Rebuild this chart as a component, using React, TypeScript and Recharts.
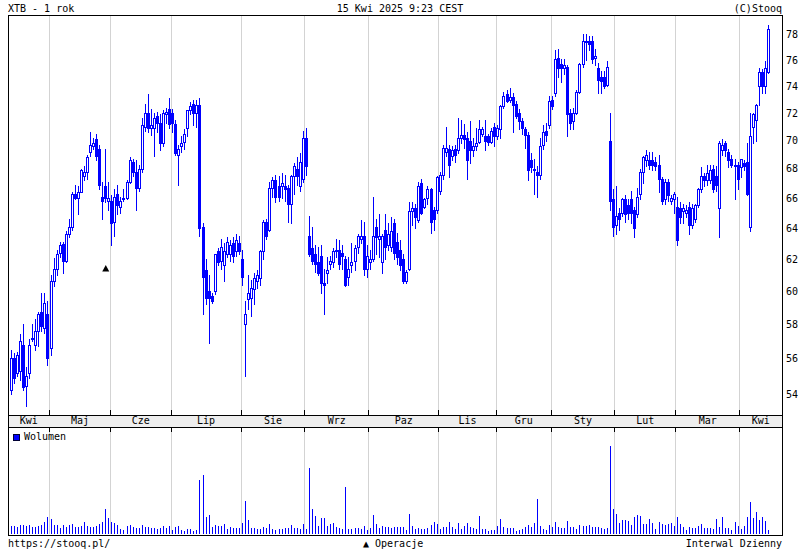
import React from 'react';
import {
  ComposedChart,
  Bar,
  XAxis,
  YAxis,
  CartesianGrid,
  ReferenceDot,
  Legend,
} from 'recharts';

const BLUE = '#0000ff';
const GRID = '#d3d3d3';
const FONT = '"DejaVu Sans Mono", "Liberation Mono", monospace';

// months on the axis and how many sessions each one holds
const monthLabels = ['Kwi', 'Maj', 'Cze', 'Lip', 'Sie', 'Wrz', 'Paz', 'Lis', 'Gru', 'Sty', 'Lut', 'Mar', 'Kwi'];
const monthDays = [13, 20, 20, 23, 21, 21, 23, 19, 18, 21, 20, 21, 10];

const priceTicks = [54, 56, 58, 60, 62, 64, 66, 68, 70, 72, 74, 76, 78];

// XTB daily OHLC
const opens = [
  54.2, 56.0, 55.2, 55.3, 56.8, 54.45, 55.2, 57.1, 56.8, 57.6, 58.7, 57.8, 58.6,
  56.6, 60.6, 61.4, 62.4, 62.95, 61.9, 63.6, 64.1, 66.3, 66.0, 66.4, 67.5, 67.8, 69.2, 69.6, 70.1, 69.4, 66.1, 66.8, 65.8,
  65.8, 64.4, 66.3, 65.4, 65.9, 66.0, 67.1, 68.5, 67.8, 66.7, 68.0, 71.0, 72.0, 70.9, 70.9, 71.8, 71.3, 69.8, 71.9, 72.3,
  72.0, 71.2, 69.0, 69.6, 69.9, 70.9, 72.2, 72.7, 72.0, 72.6, 64.1, 61.3, 60.0, 59.7, 60.0, 62.5, 61.9, 61.6, 62.3, 62.3, 63.0, 62.5, 63.0,
  62.0, 58.0, 59.5, 59.6, 60.1, 60.6, 60.8, 62.5, 64.4, 63.9, 66.7, 67.2, 66.8, 66.8, 66.8, 66.7, 65.6, 67.5, 68.0, 66.8, 67.3,
  70.2, 63.5, 62.7, 62.3, 61.8, 62.2, 60.5, 61.1, 61.7, 61.8, 62.5, 62.6, 62.4, 62.0, 60.9, 61.6, 61.9, 62.8, 63.3, 63.5, 61.4,
  61.8, 62.0, 64.1, 63.3, 61.8, 63.9, 62.9, 62.8, 64.3, 63.1, 62.6, 62.0, 60.6, 61.4, 65.1, 65.3, 64.5, 67.0, 65.4, 66.0, 66.6, 65.2, 65.2,
  66.5, 67.6, 69.2, 69.4, 68.9, 69.4, 69.3, 70.2, 70.4, 70.2, 70.0, 69.3, 69.6, 69.9, 70.5, 70.3, 70.3, 69.9, 71.0,
  70.3, 70.8, 72.5, 73.4, 73.0, 73.2, 72.7, 72.0, 71.4, 70.8, 70.4, 68.6, 67.9, 67.8, 67.6, 69.7, 70.7, 71.1,
  73.0, 73.5, 76.2, 75.7, 75.4, 75.5, 72.0, 71.4, 72.0, 73.6, 75.7, 77.4, 77.5, 77.5, 76.2, 75.4, 74.7, 74.7, 74.1, 70.0, 65.9,
  64.2, 65.0, 65.0, 65.9, 65.5, 65.9, 65.2, 64.9, 66.3, 67.8, 68.6, 68.6, 68.6, 68.5, 68.3, 67.3, 65.9, 67.1, 65.8, 65.9,
  65.4, 65.3, 65.1, 65.0, 65.4, 64.2, 64.6, 65.5, 66.6, 67.5, 67.2, 67.2, 68.0, 67.5, 65.3, 69.3, 69.8, 69.2, 68.7, 68.3, 68.3,
  68.1, 68.4, 68.5, 64.1, 71.0, 71.5, 74.0, 75.1, 74.0, 75.1,
];

const highs = [
  56.5, 56.3, 56.4, 57.4, 58.0, 55.5, 57.1, 58.0, 58.3, 58.7, 59.9, 59.9, 59.4,
  61.0, 62.05, 62.6, 63.1, 63.1, 63.8, 64.6, 66.4, 66.9, 66.8, 68.0, 68.2, 69.0, 70.6, 70.2, 70.5, 69.7, 67.1, 69.4, 67.1,
  66.2, 66.6, 66.9, 66.1, 66.6, 67.2, 68.8, 68.7, 68.6, 68.3, 71.6, 72.7, 73.4, 72.3, 72.0, 72.1, 71.9, 72.2, 72.4, 73.1,
  72.3, 71.5, 69.7, 70.3, 70.8, 72.2, 72.8, 73.0, 73.0, 73.1, 64.3, 62.0, 61.0, 59.9, 62.3, 62.7, 63.3, 63.0, 63.4, 63.2, 63.4, 63.6, 63.5,
  62.6, 59.4, 61.0, 60.7, 61.1, 61.3, 62.6, 64.5, 64.6, 67.1, 67.4, 67.6, 67.5, 67.7, 67.6, 66.9, 67.6, 68.4, 68.8, 69.1, 70.7,
  70.9, 64.8, 64.1, 62.9, 62.8, 62.9, 61.4, 62.1, 62.2, 62.7, 63.3, 63.2, 62.9, 62.2, 62.1, 63.0, 62.9, 63.6, 64.5, 64.4, 62.9,
  62.6, 66.1, 64.6, 64.9, 63.6, 64.9, 64.3, 64.7, 64.6, 63.7, 63.2, 62.3, 61.3, 65.7, 65.7, 65.6, 67.1, 67.3, 66.0, 66.8, 66.7, 65.4, 67.5,
  67.8, 69.7, 71.0, 69.7, 69.6, 69.7, 71.6, 71.5, 71.2, 70.6, 71.4, 70.2, 70.9, 71.5, 71.0, 71.5, 70.5, 70.9, 71.3,
  71.1, 72.6, 73.6, 73.7, 73.9, 73.5, 72.9, 72.3, 71.6, 71.0, 70.6, 69.1, 68.7, 68.2, 70.2, 71.1, 71.3, 73.3,
  73.3, 76.8, 76.9, 76.1, 76.1, 75.6, 72.3, 72.4, 73.7, 75.8, 78.1, 78.1, 77.9, 77.9, 76.9, 75.8, 75.2, 75.2, 75.9, 72.0, 66.6,
  66.8, 65.3, 66.0, 66.2, 65.9, 66.5, 65.4, 66.7, 68.0, 68.9, 69.3, 69.2, 69.2, 68.8, 69.0, 67.4, 67.3, 67.3, 66.2, 66.4,
  66.1, 65.7, 65.6, 65.5, 65.7, 65.6, 65.6, 66.7, 68.1, 67.7, 68.3, 68.3, 68.3, 68.2, 70.0, 70.1, 70.0, 69.4, 69.0, 68.7, 68.5,
  68.7, 68.6, 69.8, 72.0, 72.0, 72.7, 75.4, 75.3, 75.9, 78.8,
];

const lows = [
  54.0, 54.6, 55.0, 54.8, 54.2, 53.35, 54.9, 57.0, 56.5, 56.7, 57.6, 57.5, 55.6,
  56.2, 60.3, 61.0, 62.1, 61.1, 61.8, 63.4, 63.9, 65.9, 64.9, 66.4, 67.2, 67.3, 68.9, 69.4, 68.6, 66.6, 64.6, 65.7, 65.2,
  62.9, 63.5, 64.9, 65.0, 65.8, 65.9, 67.0, 67.5, 65.2, 66.5, 67.8, 70.7, 70.6, 70.4, 68.9, 70.6, 69.3, 69.6, 71.3, 70.9,
  70.6, 69.0, 66.9, 69.2, 69.4, 70.3, 71.9, 71.1, 71.0, 63.5, 58.6, 59.2, 56.9, 59.3, 59.8, 61.6, 61.4, 60.6, 62.1, 61.9, 61.8, 62.2, 62.3,
  60.4, 55.0, 58.9, 58.5, 59.2, 60.2, 60.4, 62.0, 63.3, 63.8, 66.1, 65.7, 65.8, 66.0, 65.8, 64.4, 64.3, 66.3, 66.9, 66.5, 67.1,
  67.6, 62.2, 61.7, 61.2, 61.0, 59.9, 58.6, 60.5, 61.4, 61.5, 62.1, 61.4, 61.4, 60.3, 60.4, 61.2, 61.3, 62.4, 63.0, 61.0, 60.9,
  61.4, 61.9, 62.3, 62.1, 61.1, 62.0, 62.6, 62.5, 62.0, 61.7, 61.3, 60.5, 60.5, 61.3, 64.2, 64.0, 64.4, 64.9, 65.3, 65.6, 63.7, 63.9, 65.0,
  66.3, 67.3, 68.9, 67.4, 68.6, 68.5, 69.1, 69.8, 69.5, 67.3, 68.4, 68.9, 69.3, 69.8, 70.3, 69.3, 69.7, 69.8, 69.6,
  70.1, 70.2, 72.4, 72.8, 72.8, 70.6, 71.6, 70.8, 70.5, 69.5, 67.2, 67.8, 66.3, 66.1, 67.3, 69.4, 70.0, 70.9,
  72.3, 73.3, 74.7, 74.3, 74.9, 70.3, 70.8, 70.8, 71.9, 73.5, 75.5, 76.0, 76.8, 75.8, 75.6, 73.5, 73.5, 73.9, 74.0, 65.2, 63.5,
  63.6, 63.9, 64.8, 64.4, 64.6, 64.3, 63.4, 64.7, 65.9, 67.0, 68.2, 68.0, 67.9, 67.9, 66.4, 65.6, 65.6, 65.8, 65.6, 65.0,
  62.9, 64.3, 64.3, 64.7, 63.6, 64.0, 64.4, 65.4, 66.4, 66.8, 66.9, 67.0, 66.4, 66.5, 63.4, 69.0, 68.9, 68.1, 68.1, 65.9, 66.6,
  67.4, 67.9, 66.2, 63.8, 69.8, 70.0, 72.6, 73.5, 73.5, 75.0,
];

const closes = [
  56.0, 54.9, 56.2, 57.0, 54.4, 55.0, 56.8, 57.2, 57.6, 58.6, 57.9, 59.3, 56.0,
  60.6, 61.4, 62.3, 62.9, 61.9, 63.6, 64.1, 66.3, 66.0, 66.4, 67.9, 67.8, 68.8, 69.7, 69.8, 68.9, 66.85, 65.8, 66.0, 66.0,
  64.3, 66.1, 65.5, 65.8, 66.0, 67.1, 68.6, 67.8, 66.7, 68.0, 71.1, 72.0, 70.9, 71.1, 71.6, 71.3, 69.8, 72.0, 72.1, 71.2,
  71.3, 69.1, 69.4, 69.8, 70.5, 72.2, 72.5, 72.0, 72.6, 64.0, 60.9, 59.6, 59.6, 59.4, 62.3, 61.8, 62.8, 62.5, 63.1, 62.9, 62.2, 63.2, 62.5,
  60.9, 58.6, 59.9, 60.2, 60.8, 61.0, 62.5, 64.4, 63.5, 66.7, 67.2, 66.1, 66.1, 67.0, 66.6, 65.6, 67.5, 68.2, 67.5, 68.5, 70.2,
  68.2, 62.3, 61.9, 61.7, 61.1, 60.5, 60.4, 61.3, 61.9, 62.5, 62.6, 61.7, 62.2, 60.4, 61.4, 61.8, 62.7, 63.5, 63.5, 61.4, 62.2,
  62.0, 63.5, 63.4, 63.5, 63.5, 62.8, 63.6, 63.8, 62.4, 62.1, 61.6, 60.6, 61.2, 65.1, 65.3, 64.7, 66.8, 65.0, 65.9, 66.6, 64.4, 64.6, 67.4,
  67.6, 69.5, 69.5, 68.3, 69.3, 69.0, 70.2, 70.4, 70.1, 68.6, 69.3, 69.6, 69.8, 70.8, 70.8, 70.0, 69.9, 70.7, 70.3,
  70.9, 72.5, 73.3, 72.9, 73.2, 72.6, 71.8, 71.4, 70.9, 70.4, 67.9, 68.1, 68.0, 67.6, 69.6, 70.6, 70.4, 72.9,
  72.5, 76.1, 75.4, 75.4, 75.6, 71.9, 71.3, 72.0, 73.6, 75.7, 77.5, 77.5, 77.3, 76.1, 76.3, 74.5, 74.4, 74.0, 75.5, 65.8, 64.1,
  64.8, 64.6, 65.9, 64.9, 65.0, 65.0, 64.0, 66.1, 67.8, 68.8, 69.0, 68.3, 68.3, 68.2, 67.3, 65.8, 67.1, 66.2, 66.0, 66.3,
  63.2, 64.7, 65.3, 65.2, 64.2, 65.3, 65.5, 66.6, 67.5, 67.2, 67.7, 67.9, 66.6, 66.9, 69.8, 69.7, 69.3, 68.6, 68.3, 68.2, 67.3,
  68.7, 68.2, 66.3, 70.3, 71.9, 72.6, 75.1, 74.0, 75.4, 78.5,
];

// volume, in tens of thousands of shares
const volumes = [
  8, 8, 7, 9, 9, 8, 9, 7, 7, 8, 9, 12, 17, 15, 9, 9, 6, 9, 7, 9,
  10, 7, 7, 8, 12, 8, 7, 7, 8, 10, 12, 25, 16, 12, 11, 9, 5, 4, 8, 9,
  7, 6, 6, 9, 7, 7, 6, 6, 5, 6, 8, 6, 8, 4, 7, 8, 4, 3, 5, 5,
  3, 4, 54, 59, 17, 19, 7, 9, 8, 8, 10, 5, 7, 6, 6, 6, 11, 33, 14, 6,
  6, 5, 5, 7, 6, 10, 5, 4, 5, 5, 6, 6, 9, 6, 6, 5, 10, 5, 66, 25,
  18, 8, 16, 16, 8, 10, 11, 7, 6, 5, 47, 5, 5, 6, 6, 5, 8, 4, 6, 19,
  10, 6, 8, 7, 7, 6, 7, 7,
  7, 7, 4, 20, 8, 5, 6, 5, 5, 6, 9, 12, 10, 5, 7, 7, 12, 7, 5, 11,
  5, 8, 11, 7, 6, 5, 18, 5, 5, 3, 4, 4, 8, 15, 7, 6, 6, 6, 3, 4,
  5, 7, 9, 7, 11, 35, 8, 5, 4, 9, 7, 12, 7, 6, 6, 13, 7, 7, 5, 9,
  8, 8, 9, 7, 7, 7, 6, 5, 6, 88, 25, 20, 11, 14, 14, 13, 9, 17, 19, 18,
  10, 10, 15, 11, 5, 12, 10, 9, 10, 11, 8, 17, 10, 7, 4, 7, 6, 6, 8, 10,
  6, 6, 6, 5, 15, 7, 17, 6, 6, 4, 12, 8, 5, 8, 17, 32, 16, 22, 14, 17,
  13, 4,
];

// "Operacje" marker (session index, price level)
const operations = [{ day: 31, price: 61.4 }];

const PRICE_DOMAIN: [number, number] = [52.85, 79.6];
const PLOT_LEFT = 8;
const PLOT_RIGHT = 782;
const PAD_L = 2;
const PAD_R = 12;

const dayKeys: string[] = [];
const monthStartKeys: string[] = [];
monthLabels.forEach((label, m) => {
  for (let d = 0; d < monthDays[m]; d++) {
    const key = `${m}-${label}-${d + 1}`;
    if (d === 0) monthStartKeys.push(key);
    dayKeys.push(key);
  }
});

const rows = dayKeys.map((key, i) => ({
  key,
  wick: [lows[i], highs[i]],
  body: [Math.min(opens[i], closes[i]), Math.max(opens[i], closes[i])],
  up: closes[i] >= opens[i],
  vol: volumes[i],
}));

const BAND = (PLOT_RIGHT - PLOT_LEFT - PAD_L - PAD_R) / rows.length;

function monthBoundaries({ xAxis }: any) {
  return monthStartKeys.slice(1).map((k) => {
    const s = xAxis && xAxis.scale;
    let v = typeof s === 'function' ? s(k) : NaN;
    if (!Number.isFinite(v)) v = PLOT_LEFT + PAD_L + dayKeys.indexOf(k) * BAND;
    return Math.floor(v) + 0.5;
  });
}

function priceGrid({ yAxis }: any) {
  const s = yAxis && yAxis.scale;
  if (typeof s !== 'function') return [];
  return priceTicks.map((t) => Math.floor(s(t)) + 0.5);
}

function Wick(props: any) {
  const { x, y, width, height } = props;
  if (!Number.isFinite(x) || !Number.isFinite(y)) return null;
  const cx = Math.floor(x + width / 2) + 0.5;
  return (
    <line
      x1={cx}
      x2={cx}
      y1={Math.round(y)}
      y2={Math.round(y + height) + 1}
      stroke={BLUE}
      strokeWidth={1}
    />
  );
}

function Body(props: any) {
  const { x, y, width, height, payload } = props;
  if (!Number.isFinite(x) || !Number.isFinite(y)) return null;
  const c = Math.floor(x + width / 2);
  const top = Math.round(y);
  const h = Math.max(Math.round(y + height) - top, 1);
  return (
    <rect
      x={c - 0.5}
      y={top + 0.5}
      width={2}
      height={h}
      fill={payload.up ? '#ffffff' : BLUE}
      stroke={BLUE}
      strokeWidth={1}
    />
  );
}

function VolBar(props: any) {
  const { x, y, width, height } = props;
  if (!Number.isFinite(x) || !Number.isFinite(y)) return null;
  const c = Math.floor(x + width / 2);
  const top = Math.round(y);
  const bottom = Math.round(y + height);
  return <rect x={c} y={top} width={1} height={Math.max(bottom - top, 1)} fill={BLUE} />;
}

function MonthTick(props: any) {
  const { x, y, payload } = props;
  const m = monthStartKeys.indexOf(payload.value);
  if (m < 0) return <g />;
  const start = x - BAND / 2;
  const left = m === 0 ? PLOT_LEFT : start;
  const right = m === monthLabels.length - 1 ? PLOT_RIGHT : start + monthDays[m] * BAND;
  const bx = Math.floor(start) + 0.5;
  return (
    <g>
      <text
        x={(left + right) / 2}
        y={y + 9}
        textAnchor="middle"
        fontFamily={FONT}
        fontSize={10}
        fill="#000"
      >
        {monthLabels[m]}
      </text>
      {m > 0 && <line x1={bx} x2={bx} y1={y - 5} y2={y} stroke="#000" />}
      {m > 0 && <line x1={bx} x2={bx} y1={y + 12} y2={y + 17} stroke="#000" />}
    </g>
  );
}

function Triangle(props: any) {
  const { cx, cy } = props;
  return <path d={`M${cx - 3.5},${cy + 3} L${cx},${cy - 3.5} L${cx + 3.5},${cy + 3} Z`} fill="#000" />;
}

function VolumeLegend() {
  return (
    <div
      style={{
        display: 'flex',
        alignItems: 'center',
        fontFamily: FONT,
        fontSize: 10,
        lineHeight: '10px',
        color: '#000',
        whiteSpace: 'nowrap',
      }}
    >
      <span
        style={{
          display: 'inline-block',
          width: 5,
          height: 5,
          background: BLUE,
          border: '1px solid #000033',
          marginRight: 4,
        }}
      />
      Wolumen
    </div>
  );
}

export default function App() {
  return (
    <div
      style={{
        position: 'absolute',
        left: 0,
        top: 0,
        width: 800,
        height: 550,
        background: '#fff',
        overflow: 'hidden',
      }}
    >
      <svg width={800} height={550} style={{ position: 'absolute', left: 0, top: 0 }}>
        <rect x={8} y={415} width={774} height={12} fill="#eeeeee" />
      </svg>

      <div style={{ position: 'absolute', left: 0, top: 427 }}>
        <ComposedChart
          width={800}
          height={108}
          data={rows}
          margin={{ top: 0, right: 18, bottom: 1, left: 8 }}
          barCategoryGap={0}
        >
          <CartesianGrid stroke={GRID} horizontal={false} verticalCoordinatesGenerator={monthBoundaries} />
          <XAxis dataKey="key" hide padding={{ left: PAD_L, right: PAD_R }} />
          <YAxis hide domain={[0, 107]} allowDataOverflow />
          <Legend
            layout="horizontal"
            verticalAlign="middle"
            align="center"
            content={VolumeLegend}
            wrapperStyle={{ top: 5, left: 13, width: 'auto', height: 'auto' }}
          />
          <Bar dataKey="vol" name="Wolumen" barSize={1} fill={BLUE} shape={VolBar} isAnimationActive={false} />
        </ComposedChart>
      </div>

      <div style={{ position: 'absolute', left: 0, top: 0 }}>
        <ComposedChart
          width={800}
          height={440}
          data={rows}
          margin={{ top: 15, right: 0, bottom: 13, left: 8 }}
          barGap={-3}
          barCategoryGap={0}
        >
          <CartesianGrid
            stroke={GRID}
            verticalCoordinatesGenerator={monthBoundaries}
            horizontalCoordinatesGenerator={priceGrid}
          />
          <XAxis
            dataKey="key"
            ticks={monthStartKeys}
            interval={0}
            tick={MonthTick}
            tickLine={false}
            axisLine={false}
            tickSize={0}
            tickMargin={0}
            height={12}
            padding={{ left: PAD_L, right: PAD_R }}
          />
          <YAxis
            orientation="right"
            scale="log"
            domain={PRICE_DOMAIN}
            allowDataOverflow
            ticks={priceTicks}
            interval={0}
            width={18}
            axisLine={false}
            tickLine={false}
            tickSize={0}
            tickMargin={4}
            tick={{ fontFamily: FONT, fontSize: 10, fill: '#000' }}
          />
          <YAxis
            yAxisId="edge"
            orientation="left"
            mirror
            width={0}
            scale="log"
            domain={PRICE_DOMAIN}
            allowDataOverflow
            ticks={priceTicks}
            interval={0}
            tick={false}
            axisLine={false}
            tickLine={{ stroke: '#000' }}
            tickSize={4}
          />
          <Bar dataKey="wick" barSize={3} shape={Wick} isAnimationActive={false} />
          <Bar dataKey="body" barSize={3} shape={Body} isAnimationActive={false} />
          {operations.map((op) => (
            <ReferenceDot
              key={op.day}
              x={dayKeys[op.day]}
              y={op.price}
              r={4}
              shape={Triangle}
              ifOverflow="visible"
            />
          ))}
        </ComposedChart>
      </div>

      <svg
        width={800}
        height={550}
        style={{ position: 'absolute', left: 0, top: 0, pointerEvents: 'none' }}
        fontFamily={FONT}
        fontSize={10}
      >
        <rect x={8.5} y={15.5} width={774} height={400} fill="none" stroke="#000" />
        <rect x={8.5} y={415.5} width={774} height={12} fill="none" stroke="#000" />
        <rect x={8.5} y={427.5} width={774} height={108} fill="none" stroke="#000" />
        <text x={8} y={12} fill="#000">XTB - 1 rok</text>
        <text x={400} y={12} textAnchor="middle" fill="#000">15 Kwi 2025 9:23 CEST</text>
        <text x={782} y={12} textAnchor="end" fill="#000">(C)Stooq</text>
        <text x={8} y={547} fill="#000">https://stooq.pl/</text>
        <text x={363} y={547} fill="#000">▲ Operacje</text>
        <text x={782} y={547} textAnchor="end" fill="#000">Interwal Dzienny</text>
      </svg>
    </div>
  );
}
